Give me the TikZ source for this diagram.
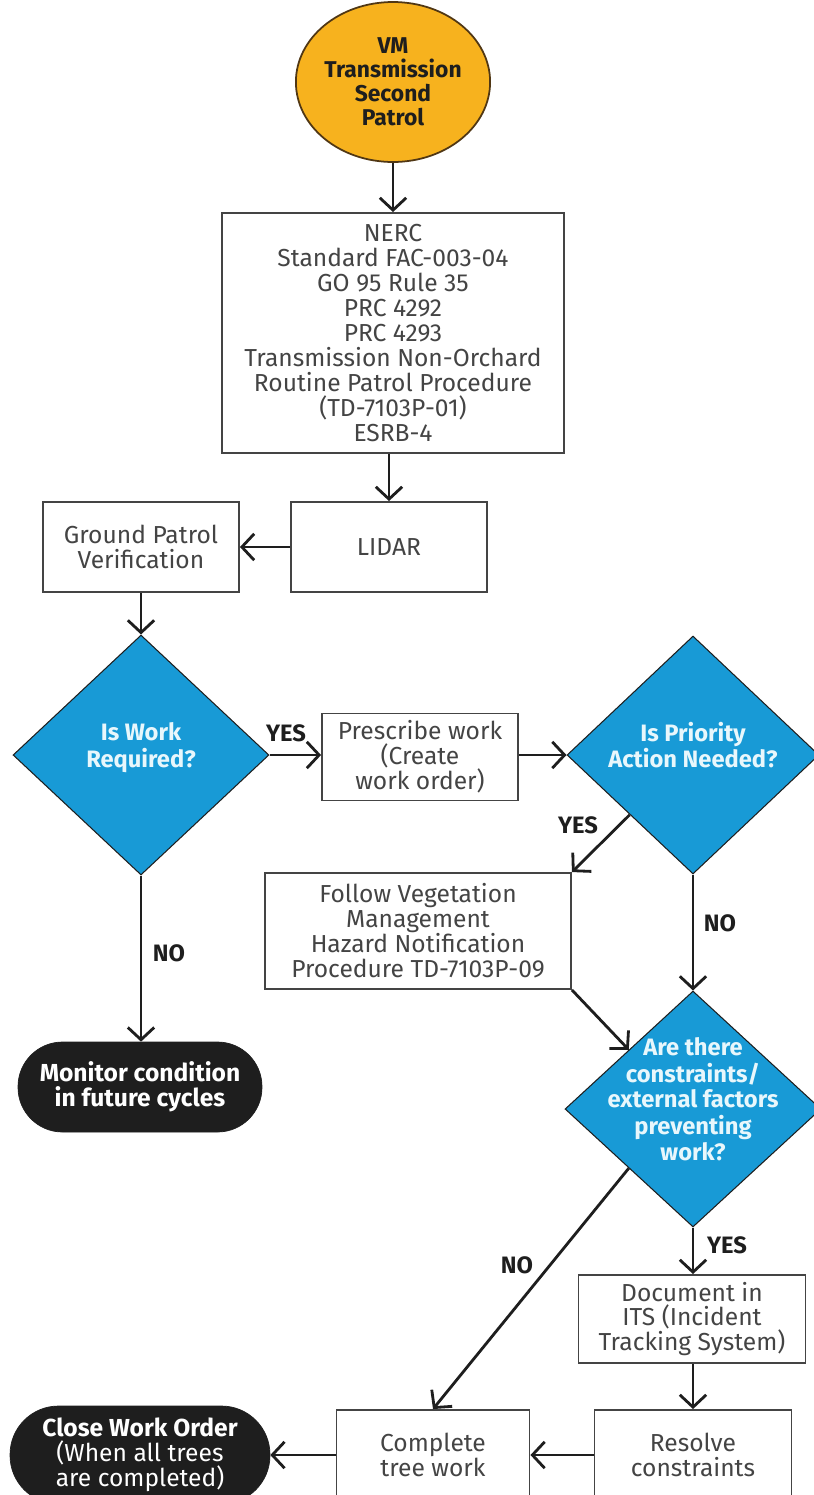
\documentclass[tikz,border=0pt]{standalone}
\usepackage{fontspec}
\setmainfont{Fira Sans}
\usepackage{tikz}
\usetikzlibrary{arrows.meta, shapes.geometric}
\definecolor{vmblue}{RGB}{24,154,214}
\definecolor{vmorange}{RGB}{247,178,30}
\definecolor{vmbrown}{RGB}{80,55,20}
\definecolor{vmink}{RGB}{30,30,30}
\definecolor{vmgray}{RGB}{68,68,68}
\definecolor{vmpale}{RGB}{232,247,252}
\newcommand{\qlines}[1]{\smash{\begin{tabular}{@{}c@{}}#1\end{tabular}}}

\begin{document}
\begin{tikzpicture}[x=0.02cm, y=-0.02cm, >={Straight Barb[length=7pt, width=15pt]},
  box/.style={draw=vmgray, line width=1.1pt, fill=white, text=vmgray, align=center,
              inner sep=0pt, font=\fontsize{14}{14.2}\selectfont},
  query/.style={diamond, draw=vmink, line width=0.6pt, fill=vmblue, text=vmpale,
                inner sep=0pt, font=\fontsize{13.5}{14.2}\selectfont\bfseries},
  pill/.style={draw=vmink, fill=vmink, text=white, align=center, inner sep=0pt,
               font=\fontsize{14}{14.2}\selectfont},
  flow/.style={->, draw=vmink, line width=1.6pt},
  tag/.style={font=\fontsize{13.5}{14}\selectfont\bfseries, text=vmink}]
  \useasboundingbox (0,0) rectangle (814,1495);

  \node[ellipse, draw=vmbrown, line width=1pt, fill=vmorange, text=vmink, align=center,
        inner sep=0pt, minimum width=3.52cm, minimum height=3.2cm,
        font=\fontsize{13}{13.6}\selectfont\bfseries] (start) at (393,82)
    {VM\\Transmission\\Second\\Patrol};
  \node[box, minimum width=6.84cm, minimum height=4.8cm] (nerc) at (393,333)
    {NERC\\Standard FAC-003-04\\GO 95 Rule 35\\PRC 4292\\PRC 4293\\
     Transmission Non-Orchard\\Routine Patrol Procedure\\(TD-7103P-01)\\ESRB-4};
  \node[box, minimum width=3.92cm, minimum height=1.8cm] (lidar) at (389,547) {LIDAR};
  \node[box, minimum width=3.92cm, minimum height=1.8cm] (ground) at (141,547)
    {Ground Patrol\\Verification};

  \node[query, minimum width=5.12cm, minimum height=4.8cm] (work) at (141,755)
    {\qlines{Is Work\\Required?}};
  \node[box, minimum width=3.92cm, minimum height=1.74cm] (presc) at (420,757)
    {Prescribe work\\(Create\\work order)};
  \node[query, minimum width=5.04cm, minimum height=4.76cm] (prio) at (693,755)
    {\qlines{Is Priority\\Action Needed?}};
  \node[box, minimum width=6.12cm, minimum height=2.32cm] (follow) at (418,931)
    {Follow Vegetation\\Management\\Hazard Notification\\Procedure TD-7103P-09};
  \node[pill, rounded corners=0.89cm, minimum width=4.88cm, minimum height=1.8cm,
        font=\fontsize{14}{14.2}\selectfont\bfseries] (monitor) at (140,1087)
    {Monitor condition\\in future cycles};
  \node[query, minimum width=5.12cm, minimum height=4.72cm] (cons) at (693,1109)
    {\qlines{Are there\\constraints/\\external factors\\preventing\\work?}};
  \node[box, minimum width=4.54cm, minimum height=1.76cm] (doc) at (692,1319)
    {Document in\\ITS (Incident\\Tracking System)};
  \node[box, minimum width=3.94cm, minimum height=1.8cm] (resolve) at (693,1455)
    {Resolve\\constraints};
  \node[box, minimum width=3.86cm, minimum height=1.8cm] (complete) at (433,1455)
    {Complete\\tree work};
  \node[pill, rounded corners=0.97cm, minimum width=5.2cm, minimum height=1.96cm] (close)
    at (140,1455) {{\bfseries Close Work Order}\\(When all trees\\are completed)};

  \draw[flow] (start.south) -- (nerc.north);
  \draw[flow] (nerc.south -| lidar.north) -- (lidar.north);
  \draw[flow] (lidar.west) -- (ground.east);
  \draw[flow] (ground.south -| work.north) -- (work.north);
  \draw[flow] (work.east) -- (work.east -| presc.west);
  \draw[flow] (presc.east |- prio.west) -- (prio.west);
  \draw[flow] (prio.south west) -- (follow.north east);
  \draw[flow] (prio.south) -- (cons.north);
  \draw[flow] (work.south) -- (work.south |- monitor.north);
  \draw[flow] (follow.south east) -- (cons.north west);
  \draw[flow] (cons.south) -- (cons.south |- doc.north);
  \draw[flow] (cons.south west) -- (complete.north);
  \draw[flow] (doc.south -| resolve.north) -- (resolve.north);
  \draw[flow] (resolve.west) -- (complete.east);
  \draw[flow] (complete.west) -- (close.east);

  \node[tag] (yes1) at (286,733) {YES};
  \node[tag] (no1) at (169,953) {NO};
  \node[tag] (yes2) at (578,825) {YES};
  \node[tag] (no2) at (720,923) {NO};
  \node[tag] (yes3) at (727,1245) {YES};
  \node[tag] (no3) at (517,1265) {NO};
\end{tikzpicture}
\end{document}
